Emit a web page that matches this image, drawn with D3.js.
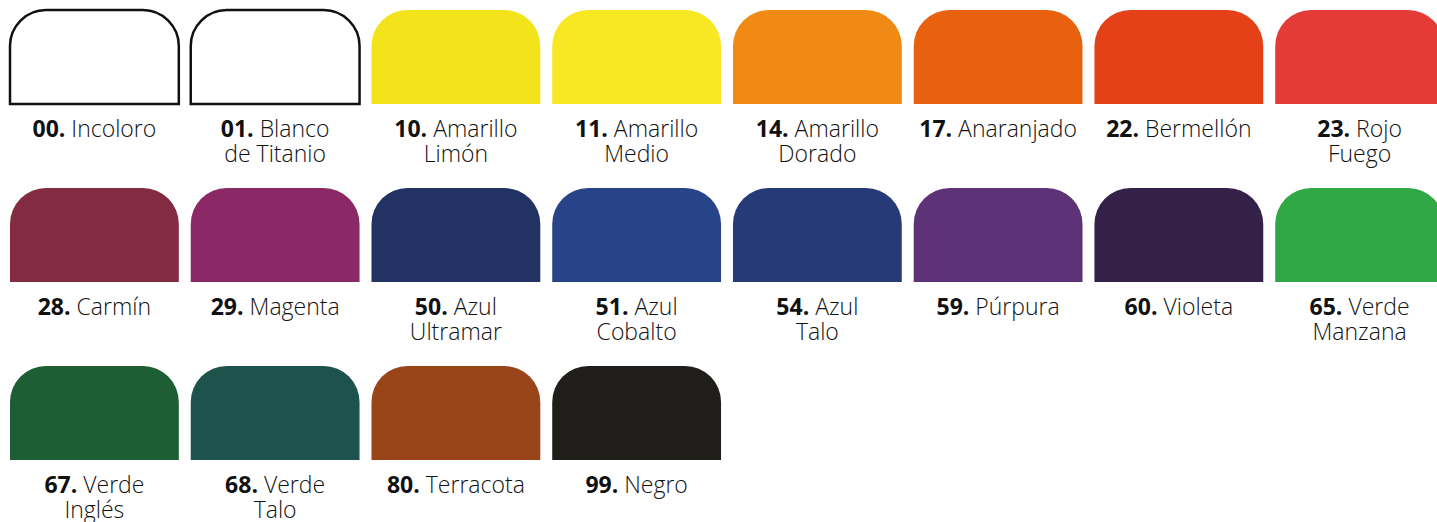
<!DOCTYPE html>
<html>
<head>
<meta charset="utf-8">
<script src="https://cdn.jsdelivr.net/npm/d3@7"></script>
<style>
  body { margin: 0; background: #fff; overflow: hidden; }
  text { font-family: "Open Sans", Lato, sans-serif; }
</style>
</head>
<body>
<div id="chart"></div>
<script>
var w = 1437
var h = 522

// paint codes, names (one entry per label line) and swatch colours
var codes = ["00", "01", "10", "11", "14", "17", "22", "23",
             "28", "29", "50", "51", "54", "59", "60", "65",
             "67", "68", "80", "99"]
var names = [["Incoloro"], ["Blanco", "de Titanio"], ["Amarillo", "Limón"], ["Amarillo", "Medio"],
             ["Amarillo", "Dorado"], ["Anaranjado"], ["Bermellón"], ["Rojo", "Fuego"],
             ["Carmín"], ["Magenta"], ["Azul", "Ultramar"], ["Azul", "Cobalto"],
             ["Azul", "Talo"], ["Púrpura"], ["Violeta"], ["Verde", "Manzana"],
             ["Verde", "Inglés"], ["Verde", "Talo"], ["Terracota"], ["Negro"]]
var colors = ["#ffffff", "#ffffff", "#f2e31b", "#f8e823", "#f08a14", "#e8610e", "#e54119", "#e53b37",
              "#832b41", "#8b2966", "#223263", "#264487", "#263a78", "#5e3277", "#33214a", "#2fa845",
              "#1e5e35", "#1d524d", "#994419", "#1f1e1a"]
var outlined = ["00", "01"]

var nCols = 8
var data = codes.map(function (c, i) {
    return { code: c, name: names[i], color: colors[i], col: i % nCols, row: Math.floor(i / nCols) }
})

var svg = d3.select("#chart").append("svg")
    .attr("width", w)
    .attr("height", h)

// columns run a bit past the right edge, like the original
var x = d3.scaleBand().domain(d3.range(nCols)).range([10, 1444]).paddingInner(0.066)
var y = d3.scaleBand().domain(d3.range(3)).range([10, 460]).paddingInner(0.472)

var r = 36 // top corner radius

function swatchPath(x0, y0, sw, sh) {
    var p = d3.path()
    p.moveTo(x0, y0 + sh)
    p.lineTo(x0, y0 + r)
    p.arcTo(x0, y0, x0 + r, y0, r)
    p.lineTo(x0 + sw - r, y0)
    p.arcTo(x0 + sw, y0, x0 + sw, y0 + r, r)
    p.lineTo(x0 + sw, y0 + sh)
    p.closePath()
    return p.toString()
}

var cell = svg.selectAll("g.swatch").data(data).enter().append("g")
    .attr("class", "swatch")

cell.append("path")
    .attr("d", function (d) { return swatchPath(x(d.col), y(d.row), x.bandwidth(), y.bandwidth()) })
    .attr("fill", function (d) { return d.color })
    .attr("stroke", function (d) { return outlined.indexOf(d.code) >= 0 ? "#111" : "none" })
    .attr("stroke-width", 2.5)

//labels: bold number + light name, second line below
var lbl = cell.append("text")
    .attr("text-anchor", "middle")
    .attr("font-size", 23)
    .attr("fill", "#111")

lbl.each(function (d) {
    var t = d3.select(this)
    var cx = x(d.col) + x.bandwidth() / 2
    var base = y(d.row) + y.bandwidth() + 33
    var first = t.append("tspan").attr("x", cx).attr("y", base)
    first.append("tspan").attr("font-weight", "bold").text(d.code + ".")
    first.append("tspan").attr("font-weight", 300).text(" " + d.name[0])
    if (d.name.length > 1) {
        t.append("tspan").attr("x", cx).attr("y", base + 25).attr("font-weight", 300).text(d.name[1])
    }
})
</script>
</body>
</html>
